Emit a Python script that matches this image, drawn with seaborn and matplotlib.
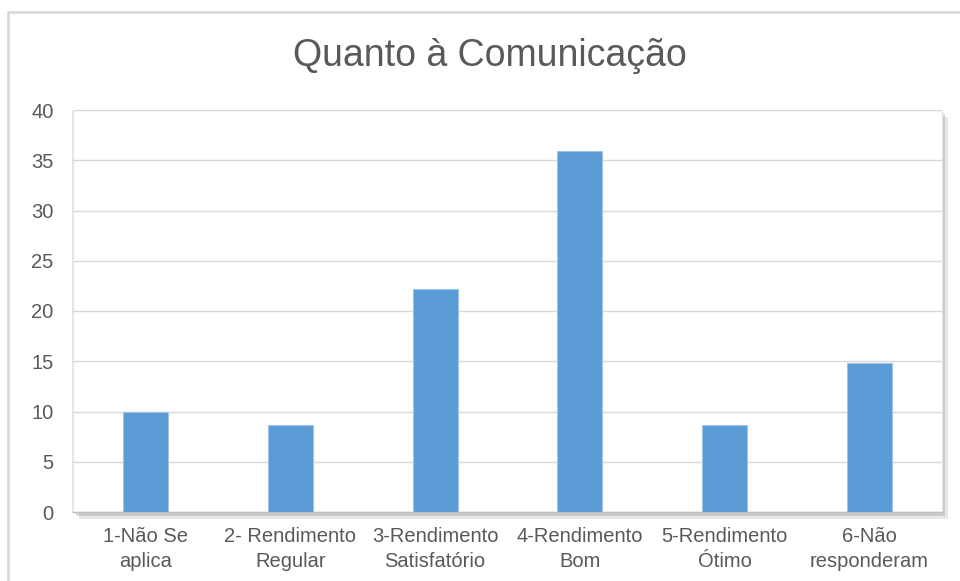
import matplotlib
matplotlib.use('Agg')
import matplotlib.pyplot as plt
import matplotlib.patheffects as pe
from matplotlib.patches import Rectangle
import seaborn as sns
import pandas as pd

categorias = [
    "1-Não Se\naplica",
    "2- Rendimento\nRegular",
    "3-Rendimento\nSatisfatório",
    "4-Rendimento\nBom",
    "5-Rendimento\nÓtimo",
    "6-Não\nresponderam",
]
valores = [10.0, 8.66, 22.2, 35.9, 8.66, 14.8]
y_ticks = [0, 5, 10, 15, 20, 25, 30, 35, 40]

titulo = "Quanto à Comunicação"

df = pd.DataFrame({"categoria": categorias, "valor": valores})

sns.set_theme(style="white")
plt.rcParams['font.family'] = ['Liberation Sans', 'DejaVu Sans']

cinza = '#595959'
azul = '#5B9BD5'

fig = plt.figure(figsize=(9.6, 5.81), dpi=100)
fig.patch.set_facecolor('white')

# moldura externa do gráfico
fig.patches.append(Rectangle((8 / 960, -0.05), 1.0, 1 - 12 / 581 + 0.05,
                             transform=fig.transFigure, fill=False,
                             edgecolor='#D9D9D9', linewidth=2, zorder=0))

ax = fig.add_axes([73 / 960, 69 / 581, 869 / 960, 402 / 581])
ax.patch.set_facecolor('white')
ax.patch.set_edgecolor('#E3E3E3')
ax.patch.set_linewidth(0.8)
# sombra suave da área de plotagem
ax.patch.set_path_effects([
    pe.withSimplePatchShadow(offset=(4, -5), shadow_rgbFace='#A0A0A0', alpha=0.25),
    pe.withSimplePatchShadow(offset=(2.5, -3), shadow_rgbFace='#8C8C8C', alpha=0.3),
    pe.withSimplePatchShadow(offset=(-1, -1), shadow_rgbFace='#BFBFBF', alpha=0.3),
])

sns.barplot(data=df, x="categoria", y="valor", color=azul, saturation=1,
            width=0.31, edgecolor='#9DC3E6', linewidth=0.8, ax=ax, zorder=3)

ax.set_ylim(0, 40)
ax.set_yticks(y_ticks)
ax.set_yticklabels([str(t) for t in y_ticks])
ax.yaxis.grid(True, color='#D9D9D9', linewidth=1.0, zorder=0)
ax.set_axisbelow(True)
ax.set_xlabel('')
ax.set_ylabel('')

for s in ['top', 'right', 'left']:
    ax.spines[s].set_visible(False)
ax.spines['bottom'].set_color('#BFBFBF')
ax.spines['bottom'].set_linewidth(1.0)

ax.tick_params(axis='y', length=0, pad=14, labelsize=14.5, labelcolor=cinza)
ax.tick_params(axis='x', length=0, pad=11, labelsize=14.5, labelcolor=cinza)
for lbl in ax.get_xticklabels():
    lbl.set_linespacing(1.35)

fig.text(490 / 960, 1 - 56 / 581, titulo, ha='center', va='center',
         fontsize=27, color=cinza)

fig.savefig('out.png', dpi=100, facecolor='white')
